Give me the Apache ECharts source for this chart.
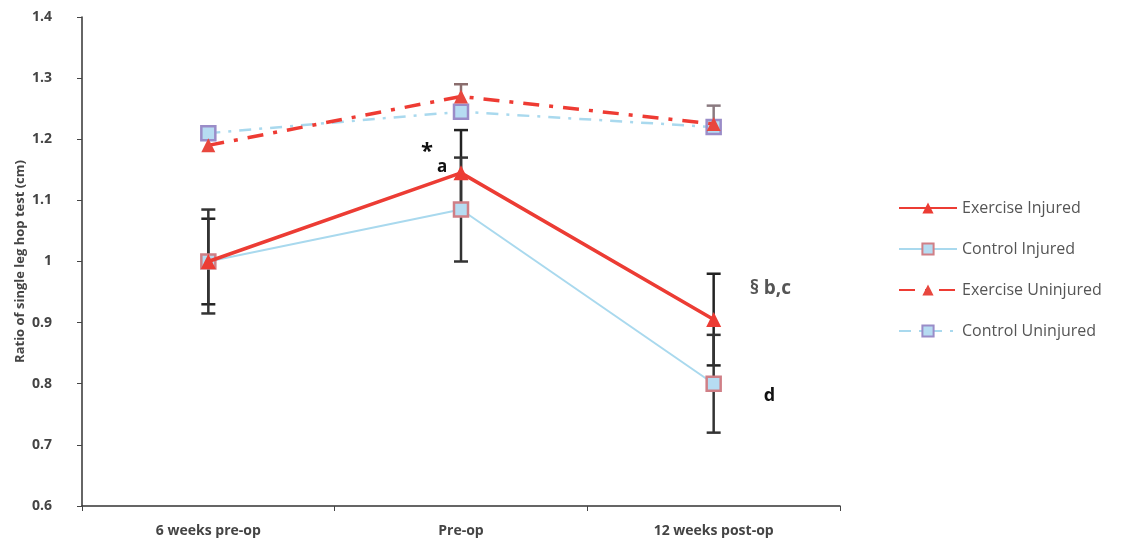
<!DOCTYPE html>
<html>
<head>
<meta charset="utf-8">
<script src="https://cdn.jsdelivr.net/npm/echarts@6/dist/echarts.min.js"></script>
<style>
  html, body { margin: 0; padding: 0; background: #fff; }
  #chart { width: 1124px; height: 544px; }
</style>
</head>
<body>
<div id="chart"></div>
<script>
// Time points
const categories = ['6 weeks pre-op', 'Pre-op', '12 weeks post-op'];

// Mean ratio of single leg hop test per group
const exerciseInjured   = [1.0, 1.145, 0.905];
const controlInjured    = [1.0, 1.085, 0.80];
const exerciseUninjured = [1.19, 1.27, 1.225];
const controlUninjured  = [1.21, 1.245, 1.22];

// Standard deviations (error bars)
const exerciseInjuredSD   = [0.07, 0.07, 0.075];
const controlInjuredSD    = [0.085, 0.085, 0.08];
const exerciseUninjuredSD = [0.0, 0.02, 0.0];
const controlUninjuredSD  = [0.0, 0.0, 0.035];

// Significance annotations: [category index, value, text]
const annotations = [
  [1, 1.18, '*'],
  [1, 1.155, 'a'],
  [2, 0.955, '§ b,c'],
  [2, 0.78, 'd']
];

function errData(mean, sd, upperOnly) {
  return mean
    .map((m, i) => [i, upperOnly ? m : m - sd[i], m + sd[i]])
    .filter(d => d[2] > d[1]);
}

function errorSeries(mean, sd, color, upperOnly) {
  return {
    type: 'custom',
    z: 1,
    silent: true,
    data: errData(mean, sd, upperOnly),
    renderItem: function (params, api) {
      const x = api.value(0);
      const lo = api.coord([x, api.value(1)]);
      const hi = api.coord([x, api.value(2)]);
      const w = 7;
      const style = { stroke: color, lineWidth: 2.5 };
      const children = [
        { type: 'line', shape: { x1: lo[0], y1: lo[1], x2: hi[0], y2: hi[1] }, style: style },
        { type: 'line', shape: { x1: hi[0] - w, y1: hi[1], x2: hi[0] + w, y2: hi[1] }, style: style }
      ];
      if (!upperOnly) {
        children.push({ type: 'line', shape: { x1: lo[0] - w, y1: lo[1], x2: lo[0] + w, y2: lo[1] }, style: style });
      }
      return { type: 'group', children: children };
    }
  };
}

const chart = echarts.init(document.getElementById('chart'));

const option = {
  animation: false,
  backgroundColor: '#ffffff',
  grid: { left: 82, right: 284, top: 17, bottom: 38 },
  textStyle: { fontFamily: 'Open Sans, DejaVu Sans, sans-serif' },
  legend: {
    orient: 'vertical',
    left: 893,
    top: 195,
    itemGap: 25,
    itemWidth: 58,
    itemHeight: 14,
    textStyle: { color: '#555', fontSize: 16, fontFamily: 'Open Sans, sans-serif' },
    data: ['Exercise Injured', 'Control Injured', 'Exercise Uninjured', 'Control Uninjured']
  },
  xAxis: {
    type: 'category',
    data: categories,
    boundaryGap: true,
    axisLine: { lineStyle: { color: '#333', width: 1.5 } },
    axisTick: { show: true, length: 5, lineStyle: { color: '#444' } },
    axisLabel: { color: '#444', fontSize: 14, fontWeight: 'bold', margin: 18 }
  },
  yAxis: {
    type: 'value',
    min: 0.6,
    max: 1.4,
    interval: 0.1,
    name: 'Ratio of single leg hop test (cm)',
    nameLocation: 'middle',
    nameGap: 55,
    nameMoveOverlap: false,
    nameTextStyle: { color: '#444', fontSize: 13, fontWeight: 'bold' },
    splitLine: { show: false },
    axisLine: { show: true, lineStyle: { color: '#333', width: 1.5 } },
    axisTick: { show: true, length: 5, lineStyle: { color: '#444' } },
    axisLabel: { color: '#444', fontSize: 14, fontWeight: 'bold', margin: 30 }
  },
  series: [
    errorSeries(exerciseInjured, exerciseInjuredSD, '#222', false),
    errorSeries(controlInjured, controlInjuredSD, '#333', false),
    errorSeries(exerciseUninjured, exerciseUninjuredSD, '#8a6d6d', true),
    errorSeries(controlUninjured, controlUninjuredSD, '#8a7a80', true),
    {
      name: 'Control Uninjured',
      type: 'line',
      z: 3,
      data: controlUninjured,
      symbol: 'rect',
      symbolSize: 14,
      lineStyle: { color: '#a9d9ee', width: 2.5, type: [12, 8, 3, 8] },
      itemStyle: { color: '#b6dcf2', borderColor: '#9a8cc8', borderWidth: 2.5 }
    },
    {
      name: 'Exercise Uninjured',
      type: 'line',
      z: 4,
      data: exerciseUninjured,
      symbol: 'triangle',
      symbolSize: 14,
      lineStyle: { color: '#ee3b33', width: 3.5, type: [16, 10, 4, 10] },
      itemStyle: { color: '#e8473e' }
    },
    {
      name: 'Control Injured',
      type: 'line',
      z: 5,
      data: controlInjured,
      symbol: 'rect',
      symbolSize: 14,
      lineStyle: { color: '#a9d9ee', width: 2 },
      itemStyle: { color: '#b6dcf2', borderColor: '#d07f86', borderWidth: 2.5 }
    },
    {
      name: 'Exercise Injured',
      type: 'line',
      z: 6,
      data: exerciseInjured,
      symbol: 'triangle',
      symbolSize: 15,
      lineStyle: { color: '#ec3c34', width: 3.5 },
      itemStyle: { color: '#ec3c34' }
    }
  ]
};

chart.setOption(option);

// Significance markers placed in data coordinates
const offsets = [[-40, 0], [-24, 0], [36, 0], [50, 0]];
const sizes = [22, 17, 19, 18];
const graphics = annotations.map(function (a, i) {
  const p = chart.convertToPixel({ gridIndex: 0 }, [a[0], a[1]]);
  return {
    type: 'text',
    x: p[0] + offsets[i][0],
    y: p[1] + offsets[i][1],
    style: {
      text: a[2],
      fill: i === 2 ? '#555' : '#111',
      fontSize: sizes[i],
      fontWeight: 'bold',
      fontFamily: 'Open Sans, sans-serif',
      align: 'left',
      verticalAlign: 'middle'
    },
    z: 10
  };
});
chart.setOption({ graphic: graphics });
</script>
</body>
</html>
